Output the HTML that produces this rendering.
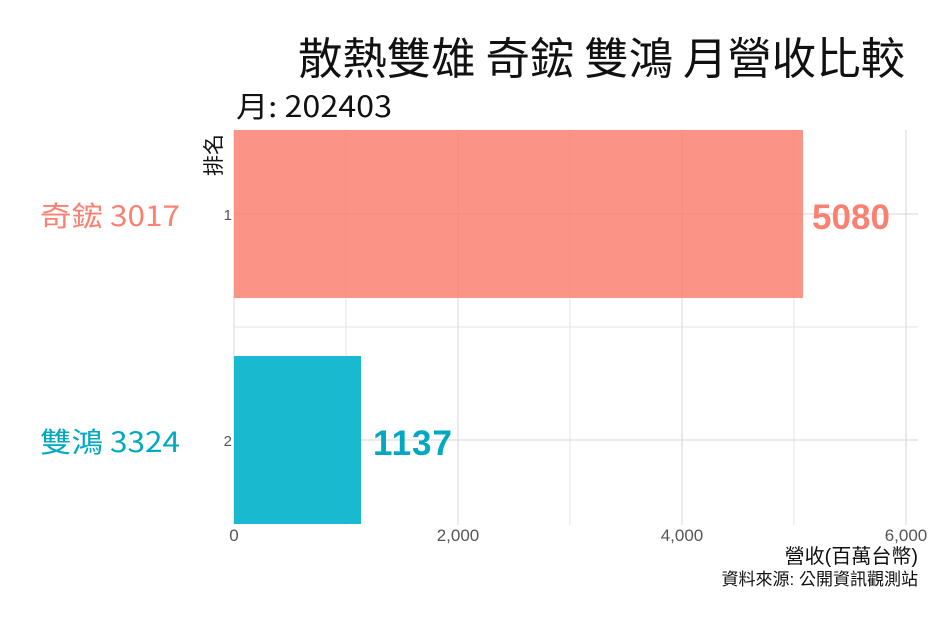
<!DOCTYPE html>
<html><head><meta charset="utf-8"><style>
body{margin:0;background:#fff}
svg text{font-family:"Liberation Sans","Noto Sans CJK TC",sans-serif}
svg text.n{font-family:"Noto Sans CJK TC",sans-serif}
</style></head><body>
<svg width="930" height="620" viewBox="0 0 930 620" xmlns="http://www.w3.org/2000/svg">
<rect width="930" height="620" fill="#fff"/>
<g stroke="#e3e3e3" stroke-width="1">
<line x1="346" y1="130" x2="346" y2="525"/><line x1="570" y1="130" x2="570" y2="525"/><line x1="794" y1="130" x2="794" y2="525"/>
<line x1="234" y1="327" x2="918" y2="327"/>
</g>
<g stroke="#d6d6d6" stroke-width="1">
<line x1="234" y1="130" x2="234" y2="525"/><line x1="458" y1="130" x2="458" y2="525"/><line x1="682" y1="130" x2="682" y2="525"/><line x1="906" y1="130" x2="906" y2="525"/>
<line x1="234" y1="214" x2="918" y2="214"/><line x1="234" y1="440" x2="918" y2="440"/>
</g>
<rect x="234" y="130" width="569" height="168" fill="#fa8072" fill-opacity="0.85"/>
<rect x="234" y="356" width="127" height="168" fill="#00b2ca" fill-opacity="0.9"/>
<text x="812" y="229" font-size="35" font-weight="bold" fill="#fa8072" textLength="78">5080</text>
<text x="373" y="455" font-size="35" font-weight="bold" fill="#00a8c0" textLength="79">1137</text>
<text class="n" x="40" y="226" font-size="28" fill="#fa8072" textLength="140" lengthAdjust="spacingAndGlyphs">奇鋐 3017</text>
<text class="n" x="40" y="452" font-size="28" fill="#00a8c0" textLength="140" lengthAdjust="spacingAndGlyphs">雙鴻 3324</text>
<text x="232" y="220" font-size="15" fill="#555" text-anchor="end">1</text>
<text x="232" y="446" font-size="15" fill="#555" text-anchor="end">2</text>
<g font-size="17" fill="#555" text-anchor="middle">
<text x="234" y="541">0</text><text x="458" y="541">2,000</text><text x="682" y="541">4,000</text><text x="906" y="541">6,000</text>
</g>
<text x="918" y="563" font-size="20" fill="#111" text-anchor="end">營收(百萬台幣)</text>
<text x="918" y="585" font-size="17" fill="#111" text-anchor="end">資料來源: 公開資訊觀測站</text>
<text class="n" transform="translate(221,155) rotate(-90)" font-size="21" fill="#111" text-anchor="middle">排名</text>
<text class="n" x="298" y="74" font-size="44" fill="#111" font-weight="400" textLength="607" lengthAdjust="spacingAndGlyphs">散熱雙雄 奇鋐 雙鴻 月營收比較</text>
<text class="n" x="236" y="117" font-size="29" fill="#111" textLength="156" lengthAdjust="spacingAndGlyphs">月: 202403</text>
</svg>
</body></html>
